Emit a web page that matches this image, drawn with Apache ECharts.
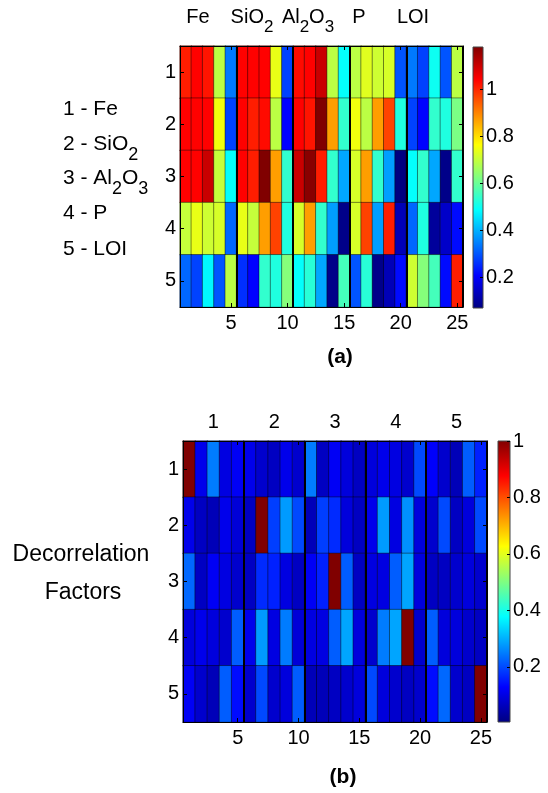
<!DOCTYPE html>
<html>
<head>
<meta charset="utf-8">
<script src="https://cdn.jsdelivr.net/npm/echarts@6/dist/echarts.min.js"></script>
<style>
  html, body { margin: 0; padding: 0; background: #fff; }
  #chart { width: 548px; height: 793px; }
</style>
</head>
<body>
<div id="chart"></div>
<script>
// Column (sample) and row (component) categories
const columns = ['1','2','3','4','5','6','7','8','9','10','11','12','13','14','15','16','17','18','19','20','21','22','23','24','25'];
const rows = ['1','2','3','4','5'];
const groupLabels = ['1','2','3','4','5'];
const colorbarTicks = [0.2, 0.4, 0.6, 0.8, 1];

// (a) correlation values per component row
const rowFe    = [1.01,1.04,1.02,0.69,0.34, 1.04,1.04,1.04,0.74,0.28, 1.03,1.04,1.10,0.69,0.49, 0.69,0.73,0.71,0.72,0.30, 0.34,0.28,0.50,0.30,0.69];
const rowSiO2  = [1.04,1.04,1.04,0.75,0.28, 1.04,1.01,1.03,0.69,0.21, 1.04,1.02,1.18,0.87,0.54, 0.75,0.69,0.87,0.97,0.52, 0.28,0.21,0.54,0.52,0.62];
const rowAl2O3 = [1.04,1.04,1.10,0.70,0.49, 1.04,1.01,1.18,0.87,0.54, 1.10,1.17,1.01,0.54,0.39, 0.72,0.87,0.54,0.38,0.07, 0.49,0.54,0.39,0.08,0.54];
const rowP     = [0.70,0.74,0.71,0.72,0.32, 0.74,0.70,0.87,0.97,0.52, 0.72,0.87,0.54,0.38,0.08, 0.72,0.97,0.38,1.01,0.13, 0.32,0.52,0.10,0.15,0.22];
const rowLOI   = [0.32,0.28,0.48,0.30,0.69, 0.26,0.21,0.54,0.52,0.63, 0.49,0.53,0.39,0.08,0.56, 0.30,0.53,0.08,0.13,0.22, 0.71,0.63,0.56,0.22,1.01];
const rangeA = [0.07, 1.18];

// (b) decorrelation factors per row
const decor1 = [1.00,0.11,0.25,0.10,0.12, 0.11,0.08,0.07,0.11,0.08, 0.25,0.07,0.12,0.095,0.07, 0.095,0.11,0.10,0.08,0.20, 0.125,0.08,0.06,0.22,0.16];
const decor2 = [0.11,0.07,0.06,0.11,0.09, 0.07,1.00,0.19,0.28,0.20, 0.06,0.19,0.17,0.095,0.07, 0.11,0.28,0.10,0.27,0.095, 0.08,0.20,0.07,0.095,0.20];
const decor3 = [0.23,0.07,0.12,0.10,0.08, 0.07,0.17,0.16,0.10,0.07, 0.12,0.16,1.00,0.22,0.07, 0.10,0.10,0.22,0.29,0.095, 0.07,0.07,0.08,0.095,0.08];
const decor4 = [0.095,0.11,0.095,0.08,0.22, 0.11,0.28,0.10,0.25,0.09, 0.10,0.10,0.22,0.29,0.095, 0.08,0.25,0.29,1.00,0.08, 0.22,0.095,0.095,0.08,0.07];
const decor5 = [0.12,0.08,0.06,0.22,0.14, 0.08,0.20,0.08,0.095,0.22, 0.06,0.06,0.07,0.08,0.095, 0.20,0.095,0.08,0.07,0.08, 0.14,0.23,0.08,0.07,1.00];
const rangeB = [0.005, 1.0];

// Jet colormap stops (equally spaced)
const jet = ['#000080','#0000ff','#0080ff','#00ffff','#80ff80','#ffff00','#ff8000','#ff0000','#800000'];

const FONT = 'Liberation Sans, Arial, Helvetica, sans-serif';

function toCells(rowArrays) {
  const out = [];
  rowArrays.forEach((r, y) => r.forEach((v, x) => out.push([x, y, v])));
  return out;
}

const everyFifth = (i) => (i + 1) % 5 === 0;
const groupStart = (i) => i > 0 && i % 5 === 0;

function bottomAxis(grid) {
  return {
    type: 'category', gridIndex: grid, position: 'bottom', data: columns, z: 6,
    axisLine: { show: true, lineStyle: { color: '#000', width: 1 } },
    axisTick: { show: true, inside: true, length: 4, alignWithLabel: true, interval: everyFifth, lineStyle: { color: '#000' } },
    axisLabel: { interval: everyFifth, color: '#000', fontSize: 20, fontFamily: FONT, margin: 6 },
    splitLine: { show: false }
  };
}
function topAxis(grid, labels) {
  return {
    type: 'category', gridIndex: grid, position: 'top', data: columns, z: 6,
    axisLine: { show: true, lineStyle: { color: '#000', width: 1 } },
    axisTick: { show: true, inside: true, length: 4, alignWithLabel: true, interval: everyFifth, lineStyle: { color: '#000' } },
    axisLabel: labels ? {
      show: true, interval: (i) => i % 5 === 2, color: '#000', fontSize: 20, fontFamily: FONT, margin: 9,
      formatter: (v, i) => labels[Math.floor(i / 5)]
    } : { show: false },
    splitLine: { show: true, interval: groupStart, lineStyle: { color: '#000', width: 2 } }
  };
}
function leftAxis(grid) {
  return {
    type: 'category', gridIndex: grid, position: 'left', data: rows, inverse: true, z: 6,
    axisLine: { show: true, lineStyle: { color: '#000', width: 1 } },
    axisTick: { show: true, inside: true, length: 4, alignWithLabel: true, lineStyle: { color: '#000' } },
    axisLabel: { color: '#000', fontSize: 20, fontFamily: FONT, margin: 4 },
    splitLine: { show: false }
  };
}
function rightAxis(grid) {
  return {
    type: 'category', gridIndex: grid, position: 'right', data: rows, inverse: true, z: 6,
    axisLine: { show: true, lineStyle: { color: '#000', width: 1 } },
    axisTick: { show: true, inside: true, length: 4, alignWithLabel: true, lineStyle: { color: '#000' } },
    axisLabel: { show: false },
    splitLine: { show: false }
  };
}
function cbX(grid) {
  return { type: 'category', gridIndex: grid, data: ['c'], show: false, boundaryGap: true };
}
function cbY(grid, range) {
  return {
    type: 'value', gridIndex: grid, position: 'right', min: range[0], max: range[1], z: 6,
    axisLine: { show: false },
    axisTick: { show: true, inside: true, length: 3, customValues: colorbarTicks, lineStyle: { color: '#000' } },
    axisLabel: { customValues: colorbarTicks, color: '#000', fontSize: 20, fontFamily: FONT, margin: 3,
      formatter: (v) => String(v) },
    splitLine: { show: false }
  };
}

function jetGradient() {
  return new echarts.graphic.LinearGradient(0, 1, 0, 0,
    jet.map((c, i) => ({ offset: i / (jet.length - 1), color: c })));
}
function colorbarSeries(axisIdx, range) {
  return {
    type: 'custom', xAxisIndex: axisIdx, yAxisIndex: axisIdx, silent: true,
    data: [[0, range[0], range[1]]],
    renderItem: (params, api) => {
      const lo = api.coord([api.value(0), api.value(1)]);
      const hi = api.coord([api.value(0), api.value(2)]);
      const w = api.size([1, 0])[0];
      return {
        type: 'rect',
        shape: { x: lo[0] - w / 2, y: hi[1], width: w, height: lo[1] - hi[1] },
        style: { fill: jetGradient(), stroke: '#444', lineWidth: 1 }
      };
    }
  };
}
function heatSeries(axisIdx, rowArrays) {
  return {
    type: 'heatmap', xAxisIndex: axisIdx, yAxisIndex: axisIdx,
    data: toCells(rowArrays),
    itemStyle: { borderColor: 'rgba(0,0,0,0.55)', borderWidth: 0.8 },
    emphasis: { disabled: true },
    silent: true
  };
}

const textStyle = (size, bold) => ({ fontSize: size, fontFamily: FONT, fontWeight: bold ? 'bold' : 'normal', fill: '#000' });
const subRich = (size) => ({
  m: { fontSize: size, fontFamily: FONT, fill: '#000', verticalAlign: 'top', lineHeight: size + 4 },
  s: { fontSize: size - 3, fontFamily: FONT, fill: '#000', verticalAlign: 'top', padding: [12, 0, 0, 0], lineHeight: size }
});
function richText(x, y, text, size, align) {
  return {
    type: 'text', x: x, y: y, silent: true,
    style: Object.assign(textStyle(size), { text: text, align: align, verticalAlign: 'top', rich: subRich(size) })
  };
}

const chart = echarts.init(document.getElementById('chart'), null, { renderer: 'canvas' });
chart.setOption({
  backgroundColor: '#fff',
  animation: false,
  grid: [
    { left: 180, top: 46, width: 283, height: 261 },
    { left: 473, top: 47, width: 10, height: 261 },
    { left: 183, top: 441, width: 304, height: 281 },
    { left: 498, top: 441, width: 12, height: 281 }
  ],
  xAxis: [bottomAxis(0), topAxis(0, null), cbX(1), bottomAxis(2), topAxis(2, groupLabels), cbX(3)],
  yAxis: [leftAxis(0), rightAxis(0), cbY(1, rangeA), leftAxis(2), rightAxis(2), cbY(3, rangeB)],
  visualMap: [
    { type: 'continuous', show: false, seriesIndex: 0, dimension: 2, min: rangeA[0], max: rangeA[1], inRange: { color: jet } },
    { type: 'continuous', show: false, seriesIndex: 2, dimension: 2, min: rangeB[0], max: rangeB[1], inRange: { color: jet } }
  ],
  series: [
    heatSeries(0, [rowFe, rowSiO2, rowAl2O3, rowP, rowLOI]),
    colorbarSeries(2, rangeA),
    heatSeries(3, [decor1, decor2, decor3, decor4, decor5]),
    colorbarSeries(5, rangeB)
  ],
  graphic: [
    // component headers above (a)
    richText(198, 7, '{m|Fe}', 20, 'center'),
    richText(252, 7, '{m|SiO}{s|2}', 20, 'center'),
    richText(308, 7, '{m|Al}{s|2}{m|O}{s|3}', 20, 'center'),
    richText(359, 7, '{m|P}', 20, 'center'),
    richText(413, 7, '{m|LOI}', 20, 'center'),
    // row legend for (a)
    richText(63, 99, '{m|1 - Fe}', 21, 'left'),
    richText(63, 134, '{m|2 - SiO}{s|2}', 21, 'left'),
    richText(63, 168, '{m|3 - Al}{s|2}{m|O}{s|3}', 21, 'left'),
    richText(63, 203, '{m|4 - P}', 21, 'left'),
    richText(63, 239, '{m|5 - LOI}', 21, 'left'),
    // panel captions
    { type: 'text', x: 340, y: 357, silent: true,
      style: Object.assign(textStyle(21, true), { text: '(a)', align: 'center', verticalAlign: 'middle' }) },
    { type: 'text', x: 343, y: 777, silent: true,
      style: Object.assign(textStyle(21, true), { text: '(b)', align: 'center', verticalAlign: 'middle' }) },
    // side caption for (b)
    { type: 'text', x: 81, y: 555, silent: true,
      style: Object.assign(textStyle(23), { text: 'Decorrelation', align: 'center', verticalAlign: 'middle' }) },
    { type: 'text', x: 83, y: 593, silent: true,
      style: Object.assign(textStyle(23), { text: 'Factors', align: 'center', verticalAlign: 'middle' }) }
  ]
});
</script>
</body>
</html>
